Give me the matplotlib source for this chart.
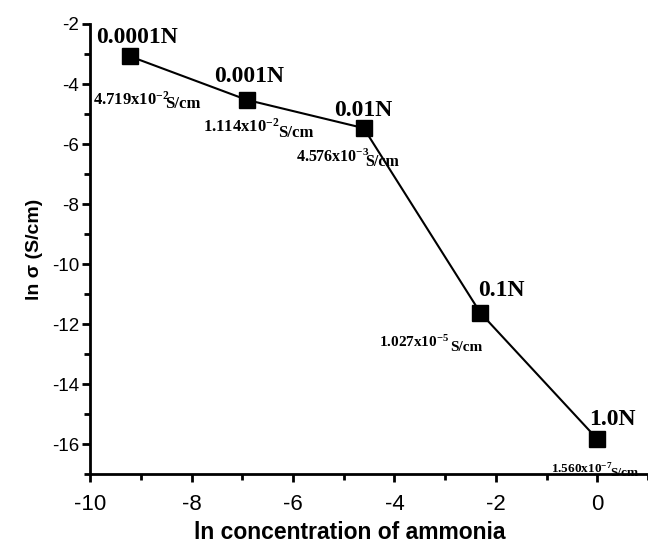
import matplotlib
matplotlib.use("Agg")
import matplotlib.pyplot as plt
from matplotlib.ticker import MultipleLocator
import numpy as np

# Daten: ln der Ammoniak-Konzentration gegen ln der Leitfaehigkeit
konz_labels = ["0.0001N", "0.001N", "0.01N", "0.1N", "1.0N"]
konzentration = [0.0001, 0.001, 0.01, 0.1, 1.0]
ln_sigma = [-3.08, -4.53, -5.47, -11.63, -15.83]
sigma_mantisse = ["4.719", "1.114", "4.576", "1.027", "1.560"]
sigma_exponent = ["-2", "-2", "-3", "-5", "-7"]

# Textpositionen relativ zu den Punkten (in points)
n_offset = [(5, 13.5), (1.5, 16.5), (0, 13), (15, 16), (11, 14)]
wert_offset = [(-26.6, -34.6), (-31.7, -23), (-49, -24.5), (-73.4, -24.5), (-33, -24.5)]
einheit_offset = [(25.5, -37), (22.3, -26.6), (1.4, -27.4), (-21.6, -27.4), (9.5, -26.6)]
wert_groesse = [12, 12, 11.5, 11, 9.5]

plt.rcParams["axes.unicode_minus"] = False
plt.rcParams["mathtext.fontset"] = "custom"
plt.rcParams["mathtext.rm"] = "Liberation Serif:bold"
plt.rcParams["mathtext.bf"] = "Liberation Serif:bold"
plt.rcParams["mathtext.it"] = "Liberation Serif:bold:italic"


def zeichne():
    x = np.log(konzentration)
    y = np.array(ln_sigma)

    fig = plt.figure(figsize=(6.48, 5.45), dpi=100)
    ax = fig.add_axes([0.139, 0.130, 0.861, 0.826])

    ax.plot(x, y, color="black", linewidth=1.5, marker="s", markersize=11.5,
            markerfacecolor="black", markeredgecolor="black")

    serif = dict(family="Liberation Serif", fontweight="bold", color="black")
    for i in range(len(x)):
        ax.annotate(konz_labels[i], xy=(x[i], y[i]), xytext=n_offset[i],
                    textcoords="offset points", ha="center", va="center",
                    fontsize=17, **serif)
        ax.annotate(sigma_mantisse[i] + "x10$^{" + sigma_exponent[i] + "}$",
                    xy=(x[i], y[i]), xytext=wert_offset[i],
                    textcoords="offset points", ha="left", va="baseline",
                    fontsize=wert_groesse[i], **serif)
        ax.annotate("S/cm", xy=(x[i], y[i]), xytext=einheit_offset[i],
                    textcoords="offset points", ha="left", va="baseline",
                    fontsize=wert_groesse[i], **serif)

    ax.set_xlim(-10, 1)
    ax.set_ylim(-17, -2)
    ax.xaxis.set_major_locator(MultipleLocator(2))
    ax.xaxis.set_minor_locator(MultipleLocator(1))
    ax.yaxis.set_major_locator(MultipleLocator(2))
    ax.yaxis.set_minor_locator(MultipleLocator(1))

    ax.spines["top"].set_visible(False)
    ax.spines["right"].set_visible(False)
    ax.spines["left"].set_linewidth(2)
    ax.spines["bottom"].set_linewidth(2)
    ax.tick_params(which="major", direction="out", length=6, width=2)
    ax.tick_params(which="minor", direction="out", length=4, width=2)
    ax.tick_params(axis="x", which="major", labelsize=16, pad=8)
    ax.tick_params(axis="y", which="major", labelsize=13.5, pad=2)
    for lab in ax.get_xticklabels() + ax.get_yticklabels():
        lab.set_family("Liberation Sans")

    ax.set_xlabel("ln concentration of ammonia", fontsize=16.5,
                  fontweight="bold", family="Liberation Sans")
    ax.xaxis.set_label_coords(0.466, -0.105)
    ax.set_ylabel("ln σ (S/cm)", fontsize=14, fontweight="bold",
                  family="Liberation Sans", labelpad=6)

    fig.savefig("out.png", dpi=100)


if __name__ == "__main__":
    zeichne()
